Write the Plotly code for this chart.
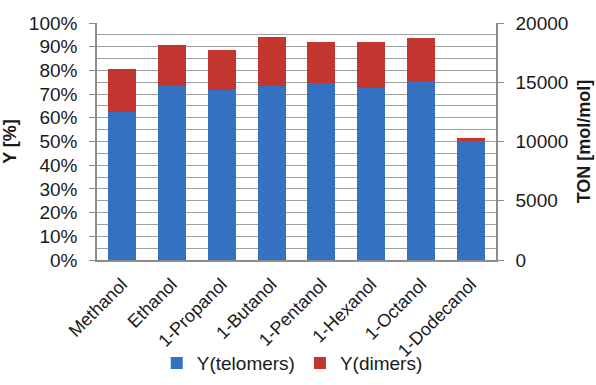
import plotly.graph_objects as go

# Alcohol substrates and the yields (in %) of telomers and dimers
alcohols = ["Methanol", "Ethanol", "1-Propanol", "1-Butanol",
            "1-Pentanol", "1-Hexanol", "1-Octanol", "1-Dodecanol"]
y_telomers = [62.6, 73.5, 71.7, 73.4, 74.8, 72.7, 75.7, 50.3]
y_dimers = [18.0, 17.2, 16.9, 20.6, 17.0, 19.1, 18.1, 1.0]

# Right-hand TON scale (mol/mol), 100 % yield corresponds to 20000
ton_ticks = [0, 5000, 10000, 15000, 20000]
ton_labels = [str(v) for v in ton_ticks]
y_ticks = list(range(0, 101, 10))
y_tick_labels = [f"{v}%" for v in y_ticks]

FONT = "Liberation Sans, Arial, sans-serif"
TXT = "#1a1a1a"
GRID = "#a0a0a0"
AXIS = "#8c8c8c"

fig = go.Figure()
fig.add_trace(go.Bar(x=alcohols, y=y_telomers, name="Y(telomers)",
                     marker=dict(color="#3471c1", line=dict(width=0))))
fig.add_trace(go.Bar(x=alcohols, y=y_dimers, name="Y(dimers)",
                     marker=dict(color="#c3352f", line=dict(width=0))))
# empty trace that attaches the secondary TON axis to the plot
fig.add_trace(go.Scatter(x=alcohols, y=[None] * len(alcohols), yaxis="y2",
                         mode="markers", showlegend=False, hoverinfo="skip"))

fig.update_layout(
    barmode="stack",
    bargap=0.44,
    width=596, height=385,
    margin=dict(l=97, r=100, t=23, b=125),
    paper_bgcolor="white", plot_bgcolor="white",
    font=dict(family=FONT, color=TXT, size=19),
    showlegend=True,
    legend=dict(orientation="h", xref="container", yref="container",
                xanchor="left", x=0.263,
                yanchor="middle", y=0.057, traceorder="normal",
                font=dict(size=19), itemwidth=30,
                bgcolor="rgba(0,0,0,0)"),
    xaxis=dict(
        tickangle=-45, tickfont=dict(size=18),
        showline=True, linecolor=AXIS, linewidth=1.5,
        ticks="", showgrid=False, automargin=False,
        ticklabelstandoff=5,
    ),
    yaxis=dict(
        range=[0, 100], tickvals=y_ticks, ticktext=y_tick_labels,
        showgrid=True, gridcolor=GRID, gridwidth=1,
        minor=dict(dtick=5, showgrid=True, gridcolor=GRID, gridwidth=1),
        showline=True, linecolor=AXIS, linewidth=1.5,
        ticks="outside", ticklen=6, tickcolor=AXIS,
        ticklabelstandoff=8, zeroline=False, automargin=False,
        title=dict(text="<b>Y [%]</b>", font=dict(size=18), standoff=10),
    ),
    yaxis2=dict(
        overlaying="y", side="right", anchor="x",
        range=[0, 20000], tickvals=ton_ticks, ticktext=ton_labels,
        showgrid=False, zeroline=False, automargin=False,
        showline=True, linecolor=AXIS, linewidth=1.5,
        ticks="outside", ticklen=6, tickcolor=AXIS,
        ticklabelstandoff=8,
        title=dict(text="<b>TON [mol/mol]</b>", font=dict(size=18), standoff=10),
    ),
)

fig.write_html("out.html")
